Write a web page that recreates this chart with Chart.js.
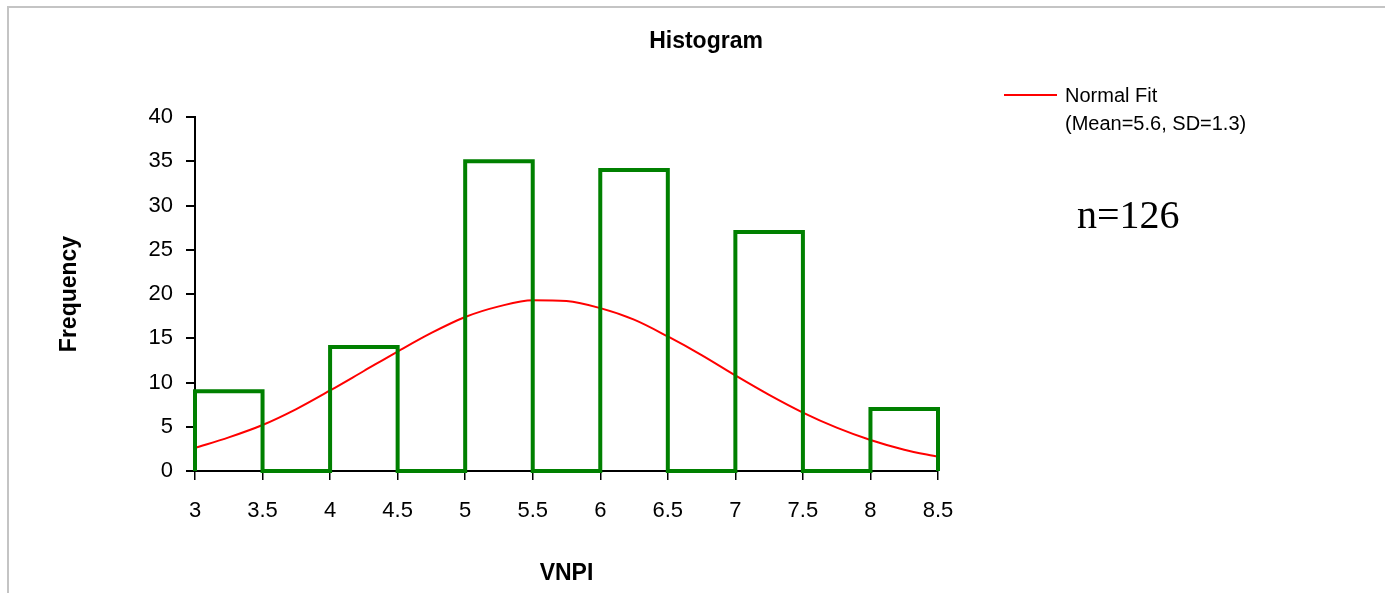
<!DOCTYPE html>
<html><head><meta charset="utf-8">
<script src="https://cdn.jsdelivr.net/npm/chart.js@4.4.0/dist/chart.umd.min.js"></script>
<style>html,body{margin:0;padding:0;background:#fff;overflow:hidden}#wrap{position:relative;width:1385px;height:593px}</style>
</head><body><div id="wrap"><canvas id="c" width="1385" height="593"></canvas></div>
<script>
// ---- data ----
const binStarts = [3, 3.5, 4, 4.5, 5, 5.5, 6, 6.5, 7, 7.5, 8];
const binWidth = 0.5;
const binCounts = [9, 0, 14, 0, 35, 0, 34, 0, 27, 0, 7];
const fitX = [3, 3.25, 3.5, 3.75, 4, 4.25, 4.5, 4.75, 5, 5.25, 5.5, 5.75, 6, 6.25, 6.5, 6.75, 7, 7.25, 7.5, 7.75, 8, 8.25, 8.5];
const fitY = [2.6, 3.8, 5.2, 7.0, 9.1, 11.3, 13.5, 15.6, 17.4, 18.6, 19.3, 19.2, 18.4, 17.1, 15.2, 13.1, 10.8, 8.6, 6.6, 4.9, 3.5, 2.4, 1.6];
const xTicks = [3, 3.5, 4, 4.5, 5, 5.5, 6, 6.5, 7, 7.5, 8, 8.5];
const yTicks = [0, 5, 10, 15, 20, 25, 30, 35, 40];
const chartTitle = 'Histogram';
const xTitle = 'VNPI';
const yTitle = 'Frequency';
const legendLines = ['Normal Fit', '(Mean=5.6, SD=1.3)'];
const noteText = 'n=126';

const FONT = '"Liberation Sans", Arial, Helvetica, sans-serif';
const SERIF = '"Liberation Serif", "Times New Roman", serif';

// histogram outline built from bins
const histPoints = [{x: binStarts[0], y: 0}];
binStarts.forEach((s, i) => {
  histPoints.push({x: s, y: binCounts[i]});
  histPoints.push({x: s + binWidth, y: binCounts[i]});
});
histPoints.push({x: binStarts[binStarts.length - 1] + binWidth, y: 0});

const fitPoints = fitX.map((x, i) => ({x, y: fitY[i]}));

const decor = {
  id: 'decor',
  beforeDraw(chart) {
    const ctx = chart.ctx;
    ctx.save();
    ctx.fillStyle = '#c4c4c4';
    ctx.fillRect(7, 6, 1378, 2);
    ctx.fillRect(7, 6, 2, 587);
    ctx.restore();
  },
  afterDraw(chart) {
    const ctx = chart.ctx;
    const xs = chart.scales.x, ys = chart.scales.y;
    ctx.save();
    ctx.fillStyle = '#000';
    ctx.textBaseline = 'alphabetic';
    ctx.textAlign = 'center';
    ctx.font = 'bold 23px ' + FONT;
    ctx.fillText(chartTitle, 706, 48);
    ctx.fillText(xTitle, (xs.left + xs.right) / 2, 580);
    ctx.save();
    ctx.translate(76, (ys.top + ys.bottom) / 2);
    ctx.rotate(-Math.PI / 2);
    ctx.fillText(yTitle, 0, 0);
    ctx.restore();
    // legend
    ctx.strokeStyle = '#ff0000';
    ctx.lineWidth = 2;
    ctx.beginPath();
    ctx.moveTo(1004, 95);
    ctx.lineTo(1057, 95);
    ctx.stroke();
    ctx.textAlign = 'left';
    ctx.font = '20px ' + FONT;
    ctx.fillText(legendLines[0], 1065, 102);
    ctx.fillText(legendLines[1], 1065, 130);
    ctx.font = '40px ' + SERIF;
    ctx.fillText(noteText, 1077, 228);
    ctx.restore();
  }
};

new Chart(document.getElementById('c').getContext('2d'), {
  type: 'line',
  data: {
    datasets: [
      {label: 'Histogram', data: histPoints, borderColor: '#008000', borderWidth: 4, pointRadius: 0,
       tension: 0, clip: false, borderJoinStyle: 'miter', borderCapStyle: 'butt', fill: false},
      {label: 'Normal Fit', data: fitPoints, borderColor: '#ff0000', borderWidth: 2, pointRadius: 0,
       tension: 0.4, cubicInterpolationMode: 'monotone', clip: false, fill: false}
    ]
  },
  options: {
    responsive: false, animation: false, events: [],
    layout: {padding: {top: 117, left: 0, right: 447, bottom: 0}},
    plugins: {legend: {display: false}, title: {display: false}, tooltip: {enabled: false}},
    scales: {
      x: {
        type: 'linear', min: xTicks[0], max: xTicks[xTicks.length - 1],
        afterBuildTicks: s => { s.ticks = xTicks.map(v => ({value: v})); },
        afterFit: s => { s.height = 122; },
        grid: {drawOnChartArea: false, drawTicks: true, tickLength: 9, color: '#000', lineWidth: 1.5},
        border: {display: true, color: '#000', width: 2},
        ticks: {color: '#000', font: {family: FONT, size: 22}, padding: 18, maxRotation: 0, autoSkip: false,
                callback: v => String(v)}
      },
      y: {
        type: 'linear', min: yTicks[0], max: yTicks[yTicks.length - 1],
        afterBuildTicks: s => { s.ticks = yTicks.map(v => ({value: v})); },
        afterFit: s => { s.width = 195; },
        grid: {drawOnChartArea: false, drawTicks: true, tickLength: 9, color: '#000', lineWidth: 2},
        border: {display: true, color: '#000', width: 2},
        ticks: {color: '#000', font: {family: FONT, size: 22}, padding: 13, autoSkip: false,
                callback: v => String(v)}
      }
    }
  },
  plugins: [decor]
});
</script>
</body></html>
